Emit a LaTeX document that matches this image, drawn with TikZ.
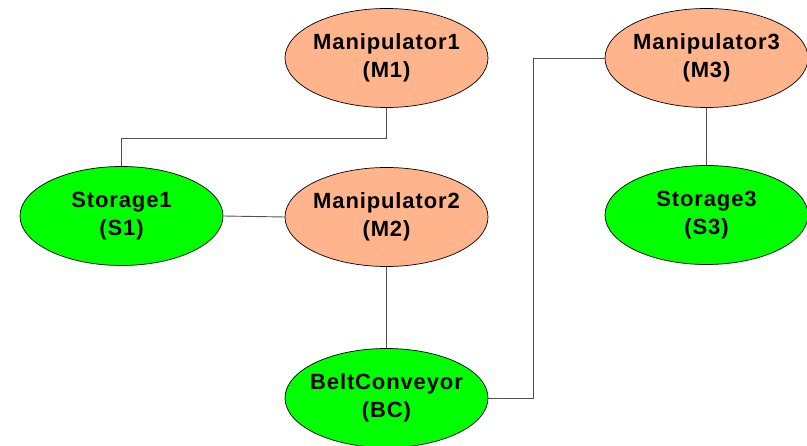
\documentclass[tikz,border=0pt]{standalone}
\usepackage{fontspec}
\setmainfont{Liberation Sans}
\newfontfamily\labelfont[LetterSpace=4]{Liberation Sans}
\usetikzlibrary{shapes.geometric}
\definecolor{manip}{RGB}{255,180,140}
\definecolor{store}{RGB}{0,255,0}
\definecolor{wire}{RGB}{80,80,80}
% two centred lines whose width does not enlarge the ellipse
\newcommand{\twolines}[2]{\makebox[0pt]{#1}\\\makebox[0pt]{#2}}
\tikzset{
  unit/.style={ellipse, draw=black, line width=0.7pt, minimum width=203pt,
    minimum height=99pt, inner sep=0pt, align=center,
    font=\labelfont\bfseries\fontsize{22}{28}\selectfont},
  manipulator/.style={unit, fill=manip},
  storage/.style={unit, fill=store},
  link/.style={draw=wire, line width=0.9pt}
}
\begin{document}
\begin{tikzpicture}[x=1pt,y=-1pt]
\useasboundingbox (0,0) rectangle (807,446);
\fill[white] (0,0) rectangle (807,446);

\node[manipulator] (m1) at (386.5,58) {\twolines{Manipulator1}{(M1)}};
\node[manipulator] (m2) at (386.5,217) {\twolines{Manipulator2}{(M2)}};
\node[manipulator] (m3) at (706.5,58) {\twolines{Manipulator3}{(M3)}};
\node[storage] (s1) at (121.5,216) {\twolines{Storage1}{(S1)}};
\node[storage] (s3) at (706.5,215) {\twolines{Storage3}{(S3)}};
\node[storage] (bc) at (386.5,398) {\twolines{BeltConveyor}{(BC)}};

\draw[link] (m1.south) -- ++(0,31) -| (s1.north);
\draw[link] (s1.east) -- (m2.west);
\draw[link] (m2.south) -- (bc.north);
\draw[link] (bc.east) -- ++(45,0) |- (m3.west);
\draw[link] (m3.south) -- (s3.north);
\end{tikzpicture}
\end{document}
